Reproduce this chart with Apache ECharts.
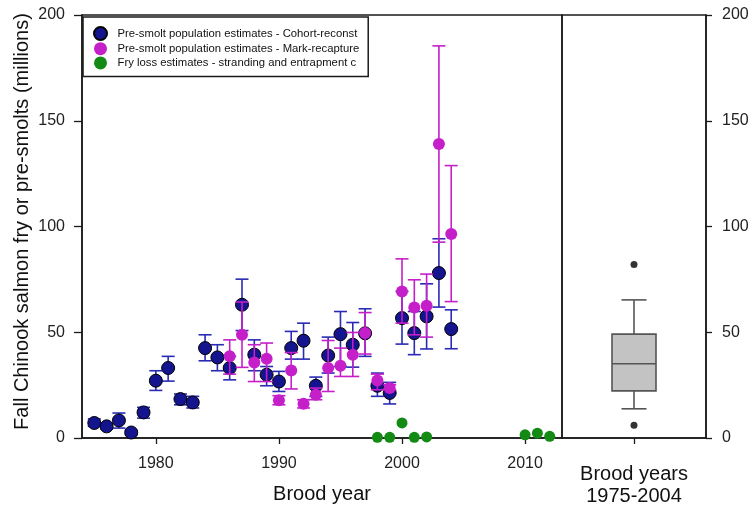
<!DOCTYPE html>
<html>
<head>
<meta charset="utf-8">
<script src="https://cdn.jsdelivr.net/npm/echarts@6/dist/echarts.min.js"></script>
<style>html,body{margin:0;padding:0;background:#fff}#c{width:751px;height:506px}</style>
</head>
<body>
<div id="c"></div>
<script>
// ---- data ----
const cohortYears = [1975,1976,1977,1978,1979,1980,1981,1982,1983,1984,1985,1986,1987,1988,1989,1990,1991,1992,1993,1994,1995,1996,1997,1998,1999,2000,2001,2002,2003,2004];
const cohortValues = [7.1,5.5,8.3,2.6,12.1,27.1,33.1,18.4,16.8,42.5,38.1,33.1,63.0,39.4,29.9,26.7,42.5,46.0,24.7,39.0,49.1,44.1,49.5,24.7,21.3,56.7,49.6,57.5,78.0,51.5];
const cohortLow = [5.5,4.3,4.7,1.6,9.4,22.5,26.9,15.7,14.2,36.5,31.8,27.5,50.8,31.8,24.7,22.0,37.3,37.3,19.7,30.7,33.8,33.5,38.6,19.7,16.1,44.4,39.4,42.1,61.9,42.2];
const cohortHigh = [9.0,6.7,11.8,3.6,14.5,31.8,38.6,20.8,19.7,48.8,44.1,38.6,75.1,46.4,33.8,31.5,50.4,54.3,28.8,47.7,59.8,54.6,61.1,30.7,26.3,69.3,59.8,72.9,94.2,60.6];

const markYears = [1986,1987,1988,1989,1990,1991,1992,1993,1994,1995,1996,1997,1998,1999,2000,2001,2002,2003,2004];
const markValues = [38.6,48.8,35.7,37.5,17.8,31.9,16.2,20.5,33.1,34.2,39.4,49.6,27.2,23.6,69.3,61.7,62.5,139.0,96.5];
const markLow = [30.2,33.4,26.7,26.7,15.7,23.2,14.2,18.1,22.0,29.1,29.1,39.7,22.8,22.8,54.3,48.8,47.7,92.6,64.5];
const markHigh = [46.4,64.3,44.1,44.9,20.0,40.4,18.1,23.6,46.1,42.5,49.9,59.3,30.2,25.2,84.7,74.8,77.5,185.4,128.8];

const fryYears = [1998,1999,2000,2001,2002,2010,2011,2012];
const fryValues = [0.3,0.3,7.1,0.3,0.5,1.5,2.3,0.8];

const boxCategory = ['Brood years\n1975-2004'];
const boxStats = [13.8, 22.3, 35.1, 49.1, 65.3]; // lower whisker, Q1, median, Q3, upper whisker
const boxOutliers = [6.0, 82.0];

const yTicks = [0, 50, 100, 150, 200];
const xTicks = [1980, 1990, 2000, 2010];

const names = [
  'Pre-smolt population estimates - Cohort-reconst',
  'Pre-smolt population estimates - Mark-recapture',
  'Fry loss estimates - stranding and entrapment c'
];

// ---- build ----
const FONT = "'Liberation Sans', Arial, sans-serif";
const BLUE = '#14148f', BLUE_BAR = '#2a2ab4', MAG = '#c41fc8', GREEN = '#138a13';

function errData(xs, lo, hi) { return xs.map((x, i) => [x, lo[i], hi[i]]); }
function errRender(color) {
  return function (params, api) {
    const x = api.value(0);
    const p1 = api.coord([x, api.value(1)]);
    const p2 = api.coord([x, api.value(2)]);
    const w = 6.5;
    const st = { stroke: color, lineWidth: 1.6 };
    return { type: 'group', children: [
      { type: 'line', shape: { x1: p1[0], y1: p1[1], x2: p2[0], y2: p2[1] }, style: st },
      { type: 'line', shape: { x1: p1[0] - w, y1: p1[1], x2: p1[0] + w, y2: p1[1] }, style: st },
      { type: 'line', shape: { x1: p2[0] - w, y1: p2[1], x2: p2[0] + w, y2: p2[1] }, style: st }
    ]};
  };
}

const axisLine = { show: true, lineStyle: { color: '#1a1a1a', width: 1.5 } };
const tickStyle = { color: '#1a1a1a', width: 1.3 };
const labelStyle = { color: '#222', fontSize: 16, fontFamily: FONT };

const chart = echarts.init(document.getElementById('c'), null, { renderer: 'canvas' });
chart.setOption({
  animation: false,
  backgroundColor: '#fff',
  textStyle: { fontFamily: FONT },
  grid: [
    { left: 82, top: 15, width: 480, height: 423, outerBoundsMode: 'none', containLabel: false,
      show: true, borderColor: '#1a1a1a', borderWidth: 1.5, backgroundColor: 'transparent' },
    { left: 562, top: 15, width: 144, height: 423, outerBoundsMode: 'none', containLabel: false,
      show: true, borderColor: '#1a1a1a', borderWidth: 1.5, backgroundColor: 'transparent' }
  ],
  legend: {
    data: names.map(n => ({ name: n, icon: 'circle' })),
    orient: 'vertical',
    left: 83, top: 17,
    padding: [9, 9, 7, 10],
    itemWidth: 20, itemHeight: 13, itemGap: 1.2,
    borderColor: '#1a1a1a', borderWidth: 1.5,
    backgroundColor: '#fff',
    selectedMode: false,
    textStyle: { fontSize: 11.3, color: '#111', fontFamily: FONT, padding: [0, 0, 0, 2] }
  },
  xAxis: [
    { type: 'value', gridIndex: 0, min: 1974, max: 2013,
      axisLine: axisLine, splitLine: { show: false },
      axisTick: { show: true, customValues: xTicks, length: 6, lineStyle: tickStyle },
      axisLabel: { customValues: xTicks, margin: 18, formatter: v => String(v), ...labelStyle },
      name: 'Brood year', nameLocation: 'middle', nameGap: 45, nameMoveOverlap: false,
      nameTextStyle: { fontSize: 20, color: '#111', fontFamily: FONT, lineHeight: 22 } },
    { type: 'category', gridIndex: 1, data: boxCategory,
      axisLine: axisLine,
      axisTick: { show: true, alignWithLabel: true, length: 6, lineStyle: tickStyle },
      axisLabel: { show: false },
      name: boxCategory[0], nameLocation: 'middle', nameGap: 25, nameMoveOverlap: false,
      nameTextStyle: { fontSize: 20, color: '#111', fontFamily: FONT, lineHeight: 22 } }
  ],
  yAxis: [
    { type: 'value', gridIndex: 0, min: 0, max: 200, interval: 50, position: 'left',
      axisLine: axisLine, splitLine: { show: false },
      axisTick: { show: true, length: 8, lineStyle: tickStyle },
      axisLabel: { margin: 17, ...labelStyle },
      name: 'Fall Chinook salmon fry or pre-smolts (millions)', nameLocation: 'middle', nameGap: 49,
      nameMoveOverlap: false,
      nameTextStyle: { fontSize: 20, color: '#111', fontFamily: FONT, lineHeight: 22, padding: [0, 0, 0, 10] } },
    { type: 'value', gridIndex: 1, min: 0, max: 200, interval: 50, position: 'right',
      axisLine: axisLine, splitLine: { show: false },
      axisTick: { show: true, length: 6, lineStyle: tickStyle },
      axisLabel: { margin: 16, ...labelStyle } }
  ],
  series: [
    { type: 'custom', name: 'cohort-err', xAxisIndex: 0, yAxisIndex: 0,
      data: errData(cohortYears, cohortLow, cohortHigh), encode: { x: 0, y: [1, 2] },
      renderItem: errRender(BLUE_BAR), z: 2 },
    { type: 'scatter', name: names[0], xAxisIndex: 0, yAxisIndex: 0,
      data: cohortYears.map((x, i) => [x, cohortValues[i]]),
      symbol: 'circle', symbolSize: 13,
      itemStyle: { color: BLUE, borderColor: '#000', borderWidth: 1, opacity: 1 }, z: 3 },
    { type: 'custom', name: 'mark-err', xAxisIndex: 0, yAxisIndex: 0,
      data: errData(markYears, markLow, markHigh), encode: { x: 0, y: [1, 2] },
      renderItem: errRender(MAG), z: 4 },
    { type: 'scatter', name: names[1], xAxisIndex: 0, yAxisIndex: 0,
      data: markYears.map((x, i) => [x, markValues[i]]),
      symbol: 'circle', symbolSize: 12,
      itemStyle: { color: MAG, opacity: 1 }, z: 5 },
    { type: 'scatter', name: names[2], xAxisIndex: 0, yAxisIndex: 0,
      data: fryYears.map((x, i) => [x, fryValues[i]]),
      symbol: 'circle', symbolSize: 11,
      itemStyle: { color: GREEN, opacity: 1 }, z: 6 },
    { type: 'custom', name: 'box', xAxisIndex: 1, yAxisIndex: 1,
      data: [[0].concat(boxStats)], encode: { x: 0, y: [1, 2, 3, 4, 5] },
      renderItem: function (params, api) {
        const c = 0;
        const lo = api.coord([c, api.value(1)]);
        const q1 = api.coord([c, api.value(2)]);
        const md = api.coord([c, api.value(3)]);
        const q3 = api.coord([c, api.value(4)]);
        const hi = api.coord([c, api.value(5)]);
        const cx = lo[0], bw = 22, cw = 12.5;
        const st = { stroke: '#555', lineWidth: 1.6 };
        return { type: 'group', children: [
          { type: 'line', shape: { x1: cx, y1: hi[1], x2: cx, y2: q3[1] }, style: st },
          { type: 'line', shape: { x1: cx, y1: q1[1], x2: cx, y2: lo[1] }, style: st },
          { type: 'line', shape: { x1: cx - cw, y1: hi[1], x2: cx + cw, y2: hi[1] }, style: st },
          { type: 'line', shape: { x1: cx - cw, y1: lo[1], x2: cx + cw, y2: lo[1] }, style: st },
          { type: 'rect', shape: { x: cx - bw, y: q3[1], width: 2 * bw, height: q1[1] - q3[1] },
            style: { fill: '#c3c3c3', stroke: '#555', lineWidth: 1.6 } },
          { type: 'line', shape: { x1: cx - bw, y1: md[1], x2: cx + bw, y2: md[1] }, style: st }
        ]};
      }, z: 2 },
    { type: 'scatter', name: 'box-outliers', xAxisIndex: 1, yAxisIndex: 1,
      data: boxOutliers.map(v => [0, v]), symbol: 'circle', symbolSize: 7,
      itemStyle: { color: '#000' }, z: 3 }
  ]
});
</script>
</body>
</html>
